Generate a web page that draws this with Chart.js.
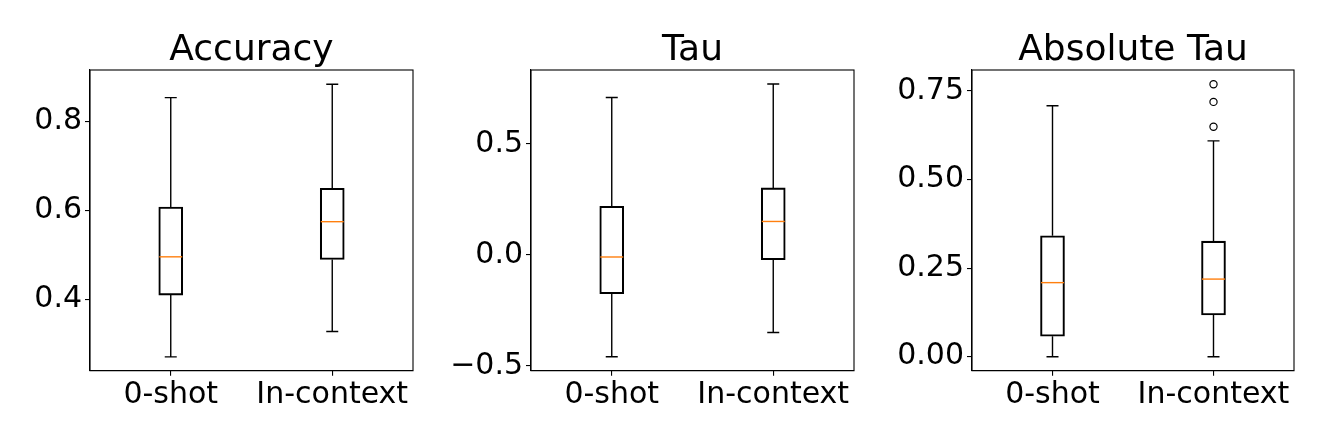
<!DOCTYPE html>
<html>
<head>
<meta charset="utf-8">
<script src="https://cdn.jsdelivr.net/npm/chart.js@4"></script>
<style>
  html, body { margin: 0; padding: 0; background: #fff; overflow: hidden; }
  .wrap { position: relative; width: 1329px; height: 443px; overflow: hidden; }
  canvas { position: absolute; top: 0; }
</style>
</head>
<body>
<div class="wrap">
  <canvas id="accuracy-chart" width="503" height="443" style="left:0px"></canvas>
  <canvas id="tau-chart" width="503" height="443" style="left:441px"></canvas>
  <canvas id="abs-tau-chart" width="502" height="443" style="left:882px"></canvas>
</div>
<script>
const categories = ["0-shot", "In-context"];

// Accuracy
const accLow = [0.270, 0.327];
const accQ1 = [0.409, 0.489];
const accMedian = [0.495, 0.574];
const accQ3 = [0.607, 0.649];
const accHigh = [0.853, 0.883];
const accTicks = [0.4, 0.6, 0.8];
const accTickLabels = ["0.4", "0.6", "0.8"];

// Tau
const tauLow = [-0.458, -0.349];
const tauQ1 = [-0.174, -0.021];
const tauMedian = [-0.009, 0.151];
const tauQ3 = [0.219, 0.302];
const tauHigh = [0.709, 0.770];
const tauTicks = [-0.5, 0.0, 0.5];
const tauTickLabels = ["\u22120.5", "0.0", "0.5"];

// Absolute Tau
const absLow = [0.0, 0.0];
const absQ1 = [0.058, 0.118];
const absMedian = [0.209, 0.219];
const absQ3 = [0.341, 0.326];
const absHigh = [0.708, 0.609];
const absOutliers = [0.649, 0.719, 0.769]; // all on "In-context"
const absTicks = [0.0, 0.25, 0.5, 0.75];
const absTickLabels = ["0.00", "0.25", "0.50", "0.75"];

const fontFamily = "'DejaVu Sans', sans-serif";

const boxPlugin = {
  id: "boxParts",
  afterDatasetsDraw(chart) {
    const parts = chart.options.plugins.boxParts;
    const x = chart.scales.x;
    const y = chart.scales.y;
    const ctx = chart.ctx;
    ctx.save();
    ctx.lineWidth = 1.4;
    parts.low.forEach((low, i) => {
      const cx = x.getPixelForValue(i);
      const yLow = y.getPixelForValue(low);
      const yHigh = y.getPixelForValue(parts.high[i]);
      const yQ1 = y.getPixelForValue(parts.q1[i]);
      const yQ3 = y.getPixelForValue(parts.q3[i]);
      const yMed = y.getPixelForValue(parts.median[i]);
      ctx.strokeStyle = "#000";
      ctx.beginPath();
      ctx.moveTo(cx, yQ1);
      ctx.lineTo(cx, yLow);
      ctx.moveTo(cx - 6, yLow);
      ctx.lineTo(cx + 6, yLow);
      ctx.moveTo(cx, yQ3);
      ctx.lineTo(cx, yHigh);
      ctx.moveTo(cx - 6, yHigh);
      ctx.lineTo(cx + 6, yHigh);
      ctx.stroke();
      ctx.strokeStyle = "#ff7f0e";
      ctx.beginPath();
      ctx.moveTo(cx - 11.5, yMed);
      ctx.lineTo(cx + 11.5, yMed);
      ctx.stroke();
    });
    ctx.restore();
  },
  afterDraw(chart) {
    const a = chart.chartArea;
    const ctx = chart.ctx;
    ctx.save();
    ctx.strokeStyle = "#000";
    ctx.lineWidth = 1.1;
    ctx.strokeRect(a.left, a.top, a.right - a.left, a.bottom - a.top);
    ctx.restore();
  },
};

function makePanel(id, title, low, q1, median, q3, high, yMin, yMax, tickValues, tickLabels, outliers) {
  const datasets = [
    {
      type: "bar",
      data: q1.map((v, i) => [v, q3[i]]),
      backgroundColor: "rgba(0,0,0,0)",
      borderColor: "#000",
      borderWidth: 1.4,
      borderSkipped: false,
      barThickness: 24,
    },
  ];
  if (outliers) {
    datasets.push({
      type: "line",
      data: outliers.map((v) => ({ x: categories[1], y: v })),
      showLine: false,
      pointStyle: "circle",
      pointRadius: 3.6,
      pointBorderWidth: 1.2,
      pointBorderColor: "#000",
      pointBackgroundColor: "rgba(0,0,0,0)",
    });
  }
  new Chart(document.getElementById(id), {
    type: "bar",
    data: { labels: categories, datasets: datasets },
    plugins: [boxPlugin],
    options: {
      responsive: false,
      animation: false,
      layout: { padding: 0 },
      plugins: {
        legend: { display: false },
        tooltip: { enabled: false },
        title: {
          display: true,
          text: title,
          color: "#000",
          font: { family: fontFamily, size: 36, weight: "normal", lineHeight: 1.0 },
          padding: { top: 32.8, bottom: 1.2 },
        },
        boxParts: { low, q1, median, q3, high },
      },
      scales: {
        x: {
          type: "category",
          offset: true,
          grid: { offset: false, drawOnChartArea: false, drawTicks: true, tickLength: 5, color: "#000", lineWidth: 1.1 },
          border: { display: true, color: "#000", width: 1.1 },
          ticks: { color: "#000", padding: 2, font: { family: fontFamily, size: 30 }, maxRotation: 0 },
          afterFit: (scale) => { scale.height = 72.3; },
        },
        y: {
          type: "linear",
          min: yMin,
          max: yMax,
          grid: { drawOnChartArea: false, drawTicks: true, tickLength: 5, color: "#000", lineWidth: 1.1 },
          border: { display: true, color: "#000", width: 1.1 },
          afterBuildTicks: (scale) => { scale.ticks = tickValues.map((v) => ({ value: v })); },
          ticks: {
            color: "#000",
            padding: 3,
            font: { family: fontFamily, size: 30 },
            callback: (value, index) => tickLabels[index],
          },
          afterFit: (scale) => { scale.width = 90; },
        },
        // empty right-hand axis, keeps the plot centred under its title
        spacer: {
          type: "linear",
          position: "right",
          min: yMin,
          max: yMax,
          grid: { display: false },
          border: { display: false },
          ticks: { display: false },
          afterFit: (scale) => { scale.width = 90; },
        },
      },
    },
  });
}

makePanel("accuracy-chart", "Accuracy", accLow, accQ1, accMedian, accQ3, accHigh, 0.239, 0.915, accTicks, accTickLabels);
makePanel("tau-chart", "Tau", tauLow, tauQ1, tauMedian, tauQ3, tauHigh, -0.521, 0.833, tauTicks, tauTickLabels);
makePanel("abs-tau-chart", "Absolute Tau", absLow, absQ1, absMedian, absQ3, absHigh, -0.0395, 0.809, absTicks, absTickLabels, absOutliers);
</script>
</body>
</html>
